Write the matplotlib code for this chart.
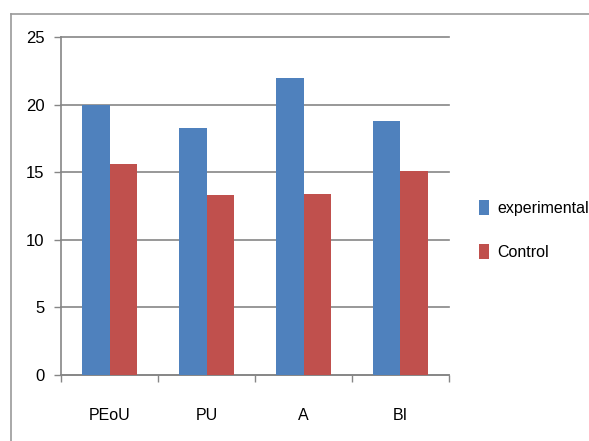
import numpy as np
import matplotlib.pyplot as plt
from matplotlib.lines import Line2D

plt.rcParams['font.family'] = ['Liberation Sans', 'DejaVu Sans']

# 数据
categories = ['PEoU', 'PU', 'A', 'BI']
experimental = [20.0, 18.3, 22.0, 18.8]
control = [15.6, 13.3, 13.4, 15.1]
yticks = [0, 5, 10, 15, 20, 25]

blue = '#4F81BD'
red = '#C0504D'
grey = '#868686'

fig = plt.figure(figsize=(5.89, 4.41), dpi=100)
ax = fig.add_axes([0.1036, 0.1497, 0.6587, 0.7662])

x = np.arange(len(categories))
w = 0.28
ax.bar(x - w / 2, experimental, w, color=blue, label='experimental', zorder=3)
ax.bar(x + w / 2, control, w, color=red, label='Control', zorder=3)

ax.set_xlim(-0.5, len(categories) - 0.5)
ax.set_ylim(0, 25)
ax.set_yticks(yticks)
ax.yaxis.grid(True, color=grey, linewidth=1.2, zorder=0)
for gl in ax.get_ygridlines():
    gl.set_clip_on(False)

# 分类刻度在类别之间
ax.set_xticks(np.arange(len(categories) + 1) - 0.5)
ax.set_xticklabels([])
ax.set_xticks(x, minor=True)
ax.set_xticklabels(categories, minor=True, fontsize=11.5)
ax.tick_params(axis='x', which='minor', length=0, pad=24)
ax.tick_params(axis='x', which='major', length=5, color=grey, width=1)
ax.tick_params(axis='y', length=5, color=grey, width=1, labelsize=12, pad=7)

for s in ['top', 'right']:
    ax.spines[s].set_visible(False)
for s in ['left', 'bottom']:
    ax.spines[s].set_color(grey)
    ax.spines[s].set_linewidth(1.2)

ax.legend(loc='center left', bbox_to_anchor=(1.04, 0.43), frameon=False,
          fontsize=11.5, handlelength=0.65, handleheight=1.1, handletextpad=0.5,
          labelspacing=1.75)

# 外边框
fig.add_artist(Line2D([11 / 589, 1.0], [1 - 14 / 441] * 2, color='#9a9a9a', linewidth=1.2))
fig.add_artist(Line2D([11 / 589] * 2, [0.0, 1 - 14 / 441], color='#9a9a9a', linewidth=1.2))

fig.savefig('out.png', dpi=100)
